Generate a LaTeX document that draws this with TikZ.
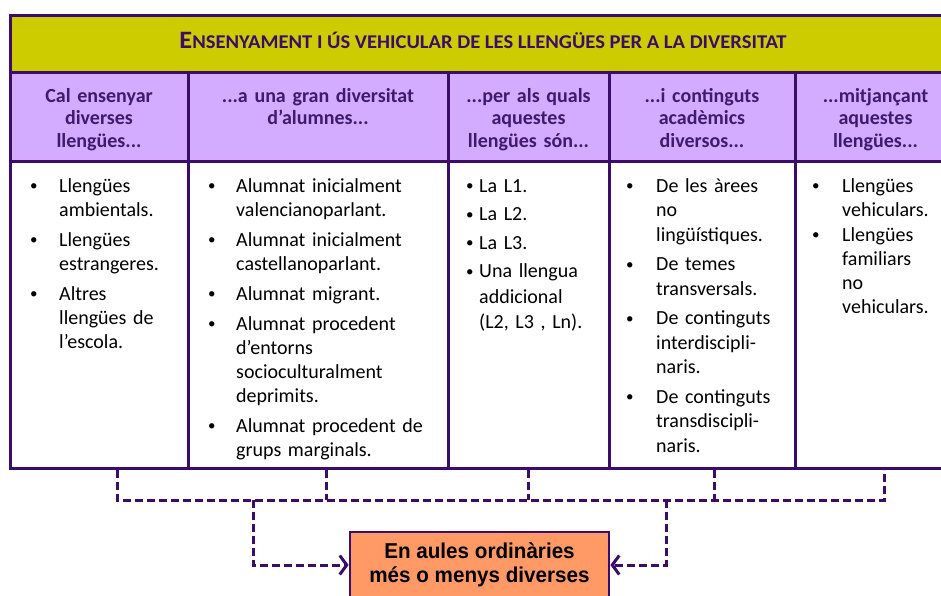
\documentclass[tikz,border=0pt]{standalone}
\usepackage{fontspec}
\usepackage{graphicx}
\setmainfont{Carlito}
\newfontfamily\arialfont{Liberation Sans}
\usetikzlibrary{arrows.meta}
\definecolor{linecol}{HTML}{3A0C6C}
\definecolor{titlefill}{HTML}{CCCC00}
\definecolor{headfill}{HTML}{D3ACFF}
\definecolor{boxfill}{HTML}{FF9966}
\definecolor{headtext}{HTML}{3E1B6D}
\newcommand\bulletmark{\raisebox{1.3pt}{\fontsize{15}{15}\selectfont\textbullet}}
\newcommand\bitem[2][28pt]{\hangindent=#1\hangafter=1\noindent\makebox[#1][l]{\bulletmark}#2\par}
\newcommand\smc[1]{{\fontsize{19.5}{19.5}\selectfont #1}}
\tikzset{
  cellbox/.style={draw=linecol, line width=3pt, rectangle, inner sep=0pt},
  headtxt/.style={anchor=base, align=center, text=headtext, inner sep=0pt, text width=#1,
    font=\bfseries\fontsize{20}{22.5}\selectfont},
  headtxt/.default=175pt,
  bodytxt/.style={anchor=base west, inner sep=0pt, text width=#1, align=left,
    font=\fontsize{20}{24}\selectfont},
  conn/.style={draw=linecol, line width=3pt, dash pattern=on 8pt off 4pt},
  goalbox/.style={draw=linecol, line width=2.8pt, fill=boxfill, rectangle, inner sep=0pt,
    minimum width=259pt, minimum height=66pt, align=center,
    font=\arialfont\bfseries\fontsize{21.5}{24}\selectfont}
}
\begin{document}
\begin{tikzpicture}[x=1pt,y=-1pt]
\useasboundingbox (0,0) rectangle (941,595);
% body cells
\node[cellbox, fill=white, minimum width=178pt, minimum height=307pt] (b1) at (99,314.5) {};
\node[cellbox, fill=white, minimum width=260pt, minimum height=307pt] (b2) at (318,314.5) {};
\node[cellbox, fill=white, minimum width=161pt, minimum height=307pt] (b3) at (528.5,314.5) {};
\node[cellbox, fill=white, minimum width=186pt, minimum height=307pt] (b4) at (702,314.5) {};
\node[cellbox, fill=white, minimum width=161pt, minimum height=307pt] (b5) at (875.5,314.5) {};
% header cells
\node[cellbox, fill=headfill, minimum width=178pt, minimum height=89pt] (h1) at (99,116.5) {};
\node[cellbox, fill=headfill, minimum width=260pt, minimum height=89pt] (h2) at (318,116.5) {};
\node[cellbox, fill=headfill, minimum width=161pt, minimum height=89pt] (h3) at (528.5,116.5) {};
\node[cellbox, fill=headfill, minimum width=186pt, minimum height=89pt] (h4) at (702,116.5) {};
\node[cellbox, fill=headfill, minimum width=161pt, minimum height=89pt] (h5) at (875.5,116.5) {};
% title
\node[cellbox, fill=titlefill, minimum width=946pt, minimum height=57pt] (title) at (483,43.5) {};
\node[anchor=base, inner sep=0pt, text=linecol, font=\bfseries] (titletxt) at (483,48.5)
  {\resizebox{607pt}{\height}{{\fontsize{25}{25}\selectfont E}\smc{NSENYAMENT I ÚS VEHICULAR DE LES LLENGÜES PER A LA DIVERSITAT}}};
% header texts
\node[headtxt] (ht1) at (99,102) {Cal ensenyar\\diverses\\llengües...};
\node[headtxt=250pt] (ht2) at (318,102) {...a una gran diversitat\\d’alumnes...};
\node[headtxt] (ht3) at (528.5,102) {...per als quals\\aquestes\\llengües són...};
\node[headtxt] (ht4) at (702,102) {...i continguts\\acadèmics\\diversos...};
\node[headtxt] (ht5) at (875.5,102) {...mitjançant\\aquestes\\llengües...};
% body texts
\node[bodytxt=150pt] (bt1) at (30,192) {\setlength\parskip{6pt}%
  \bitem[29pt]{Llengües\newline ambientals.}
  \bitem[29pt]{Llengües\newline estrangeres.}
  \bitem[29pt]{Altres\newline llengües de\newline l’escola.}};
\node[bodytxt=235pt] (bt2) at (208,192) {\setlength\parskip{6pt}%
  \bitem{Alumnat inicialment\newline valencianoparlant.}
  \bitem{Alumnat inicialment\newline castellanoparlant.}
  \bitem{Alumnat migrant.}
  \bitem{Alumnat procedent\newline d’entorns\newline socioculturalment\newline deprimits.}
  \bitem{Alumnat procedent de\newline grups marginals.}};
\node[bodytxt=140pt, font=\fontsize{20}{25.5}\selectfont] (bt3) at (466,192) {\setlength\parskip{3pt}%
  \bitem[13pt]{La L1.}
  \bitem[13pt]{La L2.}
  \bitem[13pt]{La L3.}
  \bitem[13pt]{Una llengua\newline addicional\newline (L2, L3 , Ln).}};
\node[bodytxt=170pt, font=\fontsize{20}{24.5}\selectfont] (bt4) at (626,192) {\setlength\parskip{5pt}%
  \bitem[30pt]{De les àrees\newline no\newline lingüístiques.}
  \bitem[30pt]{De temes\newline transversals.}
  \bitem[30pt]{De continguts\newline interdiscipli-\newline naris.}
  \bitem[30pt]{De continguts\newline transdiscipli-\newline naris.}};
\node[bodytxt=150pt] (bt5) at (812,192) {\setlength\parskip{1pt}%
  \bitem[30pt]{Llengües\newline vehiculars.}
  \bitem[30pt]{Llengües\newline familiars\newline no\newline vehiculars.}};
% goal box
\node[goalbox] (goal) at (479.5,565) {\scalebox{0.96}[1]{En aules ordinàries}\\\scalebox{0.96}[1]{més o menys diverses}};
% connector coordinates
\coordinate (d1) at (117,500);
\coordinate (d2) at (326,500);
\coordinate (d3) at (528,500);
\coordinate (d4) at (714,500);
\coordinate (d5) at (884,500);
\coordinate (j1) at (253,500);
\coordinate (j2) at (666,500);
\draw[conn] (b1.south -| d1) -- (d1) -- (d5) -- (b5.south -| d5);
\draw[conn] (b2.south -| d2) -- (d2);
\draw[conn] (b3.south -| d3) -- (d3);
\draw[conn] (b4.south -| d4) -- (d4);
\draw[conn, -{Straight Barb[length=7pt,width=19pt]}] (j1) |- (goal.west);
\draw[conn, -{Straight Barb[length=7pt,width=19pt]}] (j2) |- (goal.east);
\end{tikzpicture}
\end{document}
